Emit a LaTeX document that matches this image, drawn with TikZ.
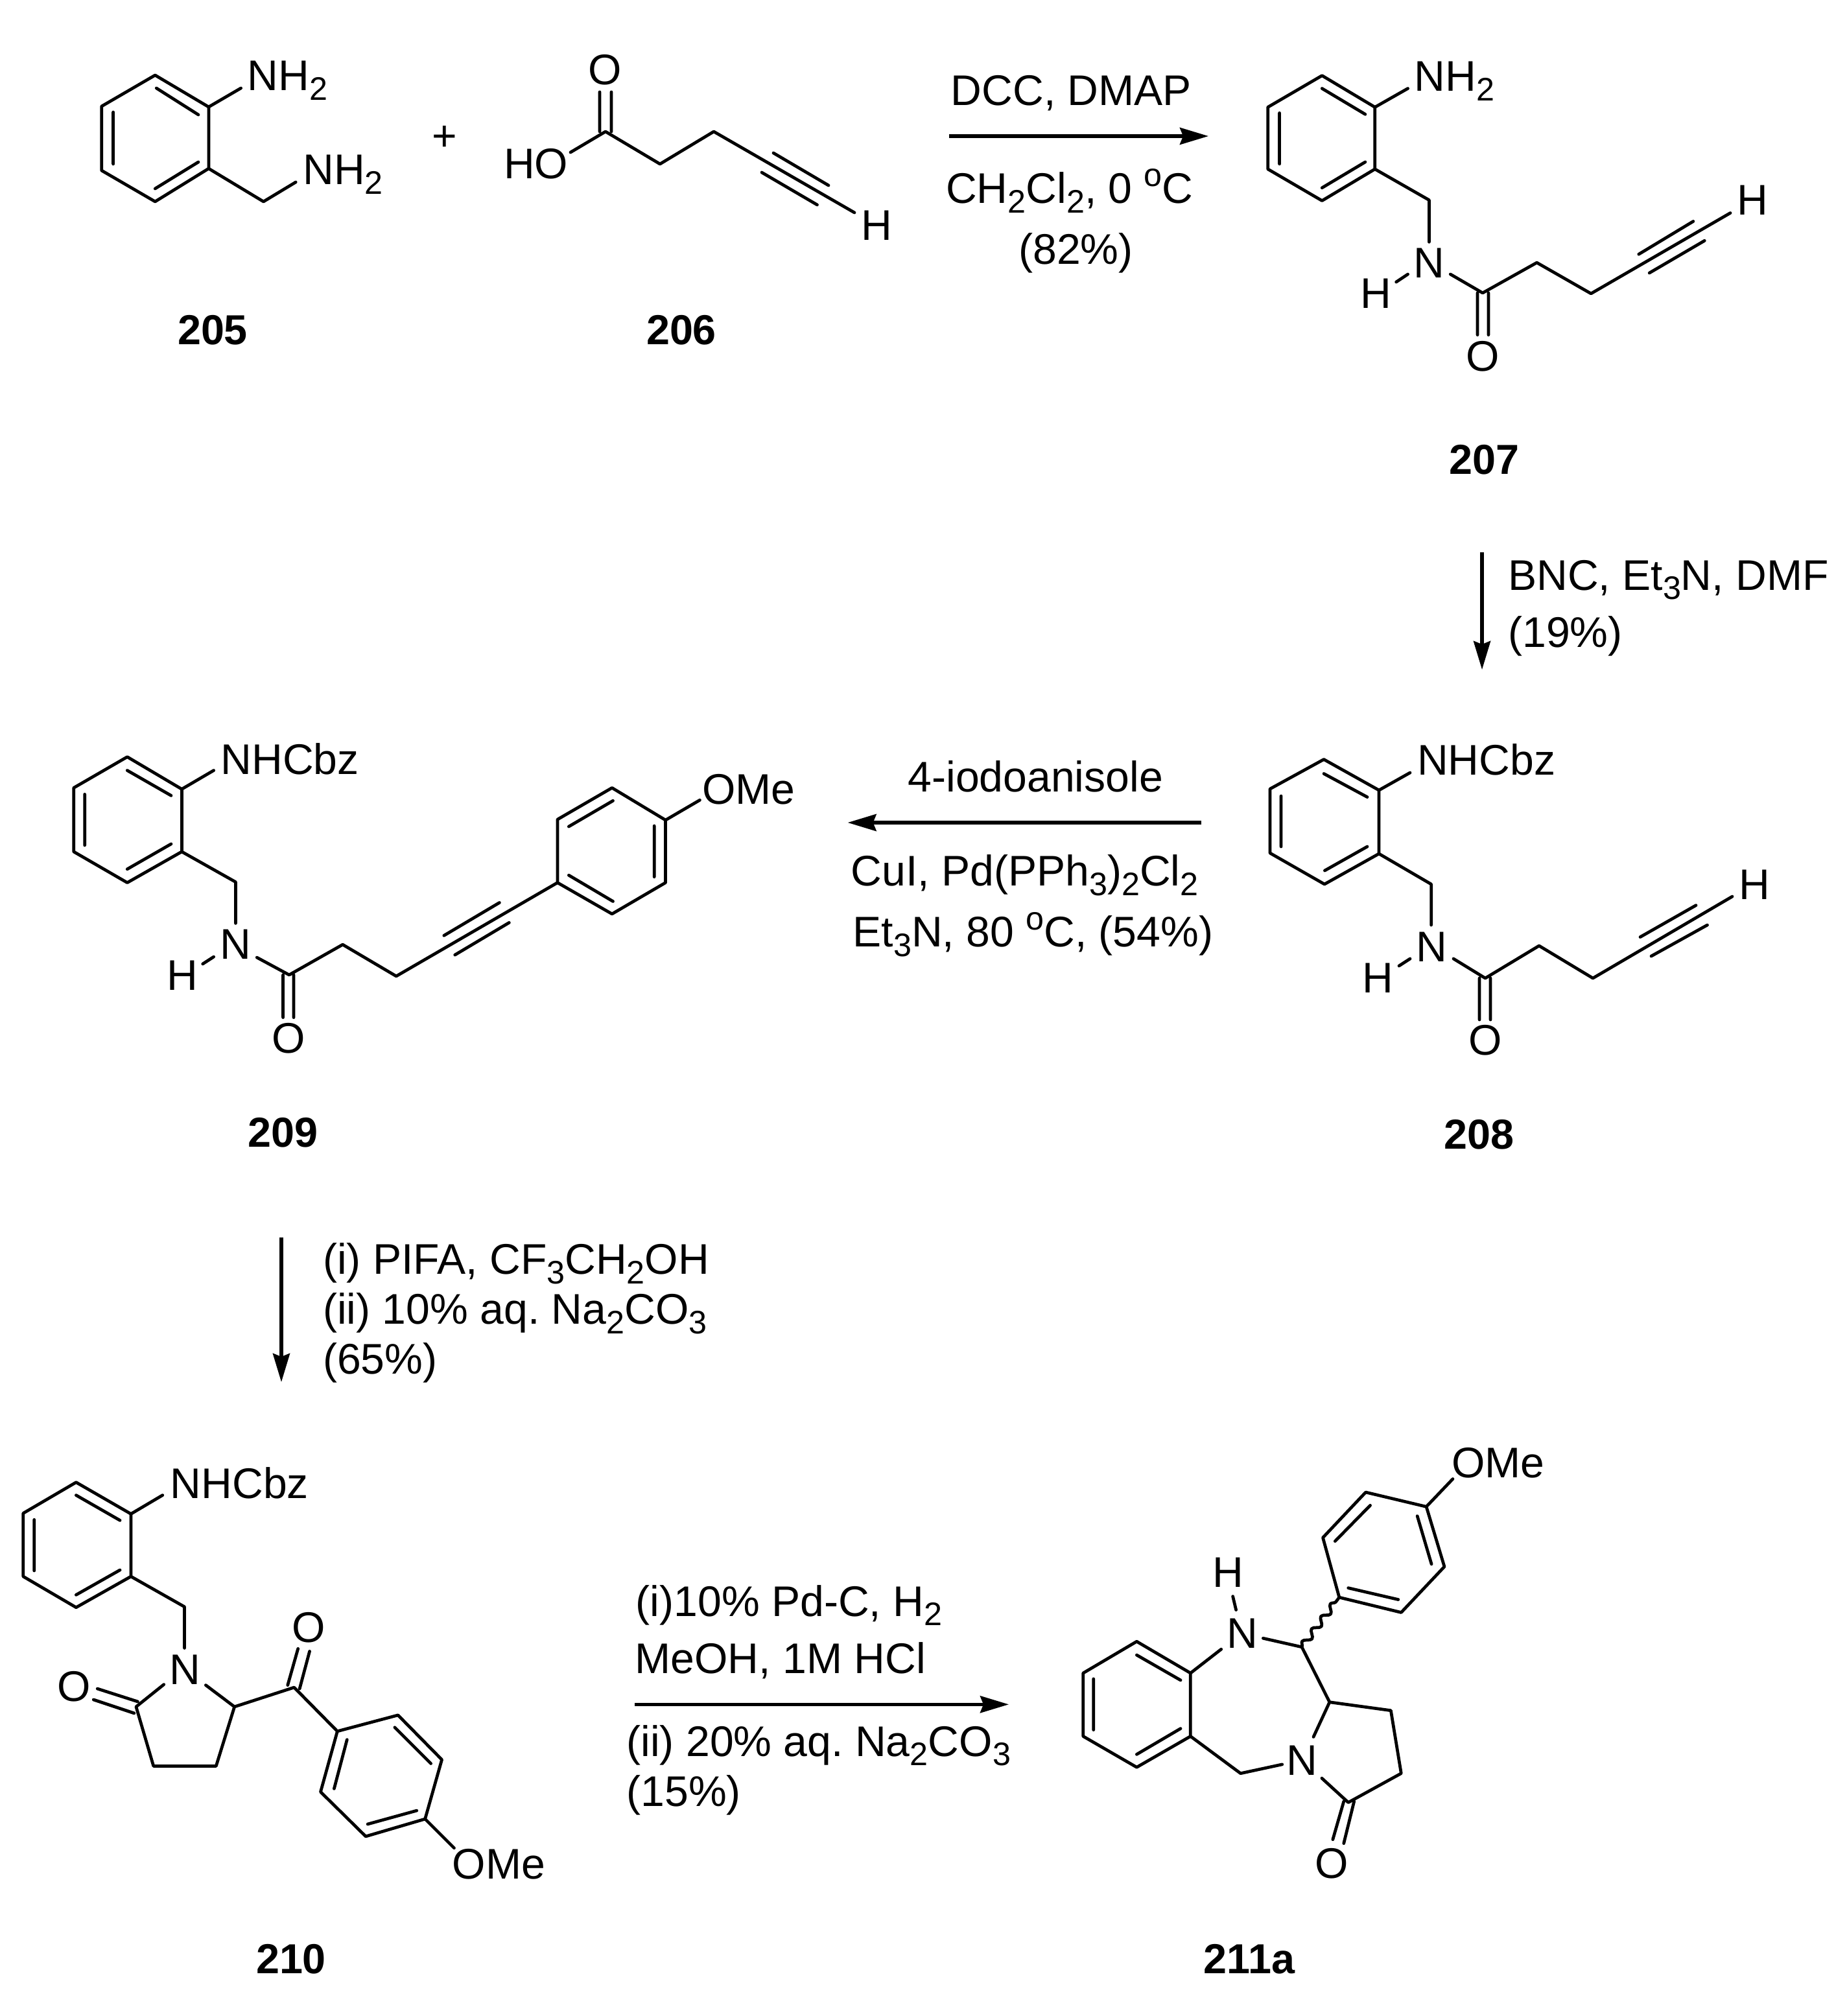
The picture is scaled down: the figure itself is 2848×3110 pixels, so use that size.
\documentclass[tikz,border=0pt]{standalone}
\usepackage{fontspec}
\setmainfont{Liberation Sans}
\usetikzlibrary{arrows.meta,decorations.pathmorphing}
\AtBeginDocument{\frenchspacing}
\newcommand{\sbs}[1]{\raisebox{-.22em}{\fontsize{14.3}{14}\selectfont #1}}
\newcommand{\sps}[1]{\raisebox{.4em}{\fontsize{14.3}{14}\selectfont #1}}
\tikzset{
  bond/.style={line width=1.35pt,line cap=round,line join=round,black},
  rxn/.style={line width=1.45pt,black,-{Stealth[length=.44cm,width=.26cm,inset=.05cm]}},
  txt/.style={inner sep=0pt,anchor=base west,xshift=-.045cm,font=\fontsize{18.8}{22}\selectfont},
  atom/.style={inner sep=0pt,anchor=center,font=\fontsize{18.8}{22}\selectfont},
  cmpd/.style={inner sep=0pt,anchor=center,font=\fontsize{18.4}{22}\selectfont\bfseries},
  wavybond/.style={bond,decorate,decoration={snake,segment length=.24cm,amplitude=.05cm}}
}
\begin{document}
\begin{tikzpicture}[x=0.01cm,y=-0.01cm]
\path[use as bounding box,fill=white] (0,0) rectangle (2848,3110);

% ---------- 205
\begin{scope}[shift={(100,40)},xscale=.995,shift={(-100,-40)}]
\path (240,116) coordinate (a1) (323,165) coordinate (a2) (323,260) coordinate (a3)
      (240,311) coordinate (a4) (157,263) coordinate (a5) (157,164) coordinate (a6)
      (373,136) coordinate (a7) (408,311) coordinate (a8) (458,281) coordinate (a9)
      (242,136) coordinate (ai1) (307,177) coordinate (ai2) (175,173) coordinate (ai3)
      (175,253) coordinate (ai4) (240,291) coordinate (ai5) (307,250) coordinate (ai6);
\draw[bond] (a1)--(a2)--(a3)--(a4)--(a5)--(a6)--cycle;
\draw[bond] (ai1)--(ai2) (ai3)--(ai4) (ai5)--(ai6) (a2)--(a7) (a3)--(a8)--(a9);
\node[txt] (t205a) at (387,140) {NH\sbs{2}};
\node[txt] (t205b) at (473,285) {NH\sbs{2}};
\end{scope}
\node[cmpd] (l205) at (328,509) {205};
\node[atom] (plus) at (686,213) {+};

% ---------- 206
\path (934,203) coordinate (b1) (1018,253) coordinate (b2) (1101,203) coordinate (b3)
      (1318,328) coordinate (b4) (880,235) coordinate (b5)
      (925,203) coordinate (b6) (925,142) coordinate (b7) (943,203) coordinate (b8) (943,142) coordinate (b9)
      (1193,236) coordinate (b10) (1278,286) coordinate (b11) (1175,266) coordinate (b12) (1260.5,316) coordinate (b13);
\draw[bond] (b5)--(b1)--(b2)--(b3)--(b4);
\draw[bond] (b6)--(b7) (b8)--(b9) (b10)--(b11) (b12)--(b13);
\node[atom] (o206) at (933.5,108) {O};
\node[txt] (ho206) at (781,276) {HO};
\node[atom] (h206) at (1352,348) {H};
\node[cmpd] (l206) at (1051,509) {206};

% ---------- arrow 205+206 -> 207
\coordinate (r1s) at (1464,210); \coordinate (r1e) at (1864,210);
\draw[rxn] (r1s)--(r1e);
\node[txt] (r1a) at (1470.7,163) {DCC, DMAP};
\node[txt] (r1b) at (1463,314) {CH\sbs{2}Cl\sbs{2}, 0 \sps{o}C};
\node[txt] (r1c) at (1575,408) {(82\%)};

% ---------- 207
\begin{scope}[shift={(1900,40)},scale=.995,shift={(-1900,-40)}]
\path (2040,117) coordinate (c1) (2122,166) coordinate (c2) (2122,262) coordinate (c3)
      (2040,311) coordinate (c4) (1956,262) coordinate (c5) (1956,166) coordinate (c6)
      (2173,137) coordinate (c7) (2206,310) coordinate (c8) (2206,375) coordinate (c9)
      (2173,425) coordinate (c10) (2155,437) coordinate (c11) (2239,425) coordinate (c12)
      (2289,454) coordinate (c13) (2373,407) coordinate (c14) (2457,455) coordinate (c15)
      (2673,330) coordinate (c16)
      (2281,454) coordinate (c17) (2281,519) coordinate (c18) (2298,454) coordinate (c19) (2298,519) coordinate (c20)
      (2531,394) coordinate (c21) (2615.5,343) coordinate (c22) (2547.5,423) coordinate (c23) (2633,373) coordinate (c24)
      (2040,137) coordinate (ci1) (2107,177) coordinate (ci2) (1974,175) coordinate (ci3)
      (1974,254) coordinate (ci4) (2040,291) coordinate (ci5) (2107,251) coordinate (ci6);
\draw[bond] (c1)--(c2)--(c3)--(c4)--(c5)--(c6)--cycle;
\draw[bond] (ci1)--(ci2) (ci3)--(ci4) (ci5)--(ci6) (c2)--(c7) (c3)--(c8)--(c9) (c10)--(c11);
\draw[bond] (c12)--(c13)--(c14)--(c15)--(c16) (c17)--(c18) (c19)--(c20) (c21)--(c22) (c23)--(c24);
\node[txt] (t207) at (2187,141) {NH\sbs{2}};
\node[atom] (n207) at (2206,408) {N};
\node[atom] (hn207) at (2123,455) {H};
\node[atom] (o207) at (2289.5,552) {O};
\node[atom] (h207) at (2707,310) {H};
\node[cmpd] (l207) at (2291,713) {207};
\end{scope}

% ---------- arrow 207 -> 208
\coordinate (r2s) at (2286,852); \coordinate (r2e) at (2286,1033);
\draw[rxn] (r2s)--(r2e);
\node[txt] (r2a) at (2330,910.4) {BNC, Et\sbs{3}N, DMF};
\node[txt] (r2b) at (2330,998) {(19\%)};

% ---------- 208
\path (2042,1171.5) coordinate (d1) (2127,1219) coordinate (d2) (2127,1317) coordinate (d3)
      (2043,1364) coordinate (d4) (1959,1316) coordinate (d5) (1959,1217) coordinate (d6)
      (2175,1192) coordinate (d7) (2207.6,1364) coordinate (d8) (2207.6,1427) coordinate (d9)
      (2175,1479) coordinate (d10) (2158,1490) coordinate (d11) (2242,1479) coordinate (d12)
      (2291,1509) coordinate (d13) (2374,1459) coordinate (d14) (2457,1509) coordinate (d15)
      (2672,1383) coordinate (d16)
      (2282,1509) coordinate (d17) (2282,1573) coordinate (d18) (2299,1509) coordinate (d19) (2299,1573) coordinate (d20)
      (2530,1445.5) coordinate (d21) (2616,1396.6) coordinate (d22) (2547,1475) coordinate (d23) (2633.5,1427) coordinate (d24)
      (2042,1193.5) coordinate (di1) (2109,1229.6) coordinate (di2) (1976,1228) coordinate (di3)
      (1976,1306) coordinate (di4) (2043.4,1343) coordinate (di5) (2109,1306) coordinate (di6);
\draw[bond] (d1)--(d2)--(d3)--(d4)--(d5)--(d6)--cycle;
\draw[bond] (di1)--(di2) (di3)--(di4) (di5)--(di6) (d2)--(d7) (d3)--(d8)--(d9) (d10)--(d11);
\draw[bond] (d12)--(d13)--(d14)--(d15)--(d16) (d17)--(d18) (d19)--(d20) (d21)--(d22) (d23)--(d24);
\node[txt] (t208) at (2190,1195) {NHCbz};
\node[atom] (n208) at (2208,1461) {N};
\node[atom] (hn208) at (2125,1509) {H};
\node[atom] (o208) at (2291,1605) {O};
\node[atom] (h208) at (2706,1364.5) {H};
\node[cmpd] (l208) at (2281,1750) {208};

% ---------- arrow 208 -> 209
\coordinate (r3s) at (1853,1269); \coordinate (r3e) at (1307.6,1269);
\draw[rxn] (r3s)--(r3e);
\node[txt] (r3a) at (1404.4,1221.7) {4-iodoanisole};
\node[txt] (r3b) at (1316.4,1366.7) {CuI, Pd(PPh\sbs{3})\sbs{2}Cl\sbs{2}};
\node[txt] (r3c) at (1319.4,1460.7) {Et\sbs{3}N, 80 \sps{o}C, (54\%)};

% ---------- 209
\begin{scope}[shift={(60,1100)},scale=.995,shift={(-60,-1100)}]
\path (197,1168) coordinate (e1) (281.5,1218) coordinate (e2) (281.5,1315) coordinate (e3)
      (197,1363) coordinate (e4) (114,1315) coordinate (e5) (114,1216) coordinate (e6)
      (331,1189) coordinate (e7) (365,1362) coordinate (e8) (365,1426) coordinate (e9)
      (331,1478) coordinate (e10) (314,1489) coordinate (e11) (398,1479) coordinate (e12)
      (448,1506) coordinate (e13) (531,1459) coordinate (e14) (614,1508) coordinate (e15)
      (864,1363) coordinate (e16)
      (438.5,1506) coordinate (e17) (438.5,1572) coordinate (e18) (455,1506) coordinate (e19) (455,1572) coordinate (e20)
      (688,1445) coordinate (e21) (774,1394) coordinate (e22) (705,1475) coordinate (e23) (789,1425) coordinate (e24)
      (948.5,1411.5) coordinate (e25) (1031.5,1363) coordinate (e26) (1031.5,1266) coordinate (e27)
      (948.5,1216) coordinate (e28) (864,1265) coordinate (e29) (1084.6,1235) coordinate (e30)
      (197,1189) coordinate (ei1) (265,1228) coordinate (ei2) (131,1226) coordinate (ei3)
      (131,1305) coordinate (ei4) (197,1342) coordinate (ei5) (265,1303) coordinate (ei6)
      (881.5,1351.5) coordinate (ei7) (950,1392) coordinate (ei8) (1014,1354) coordinate (ei9)
      (1014,1275) coordinate (ei10) (950,1236) coordinate (ei11) (881.5,1276) coordinate (ei12);
\draw[bond] (e1)--(e2)--(e3)--(e4)--(e5)--(e6)--cycle;
\draw[bond] (ei1)--(ei2) (ei3)--(ei4) (ei5)--(ei6) (e2)--(e7) (e3)--(e8)--(e9) (e10)--(e11);
\draw[bond] (e12)--(e13)--(e14)--(e15)--(e16) (e17)--(e18) (e19)--(e20) (e21)--(e22) (e23)--(e24);
\draw[bond] (e16)--(e25)--(e26)--(e27)--(e28)--(e29)--cycle;
\draw[bond] (ei7)--(ei8) (ei9)--(ei10) (ei11)--(ei12) (e27)--(e30);
\node[txt] (t209) at (346,1195) {NHCbz};
\node[atom] (n209) at (365,1459) {N};
\node[atom] (hn209) at (282,1507) {H};
\node[atom] (o209) at (447,1604) {O};
\node[txt] (ome209) at (1092,1241) {OMe};
\node[cmpd] (l209) at (438.5,1750) {209};
\end{scope}

% ---------- arrow 209 -> 210
\coordinate (r4s) at (434,1909); \coordinate (r4e) at (434,2132);
\draw[rxn] (r4s)--(r4e);
\node[txt] (r4a) at (502,1965.7) {(i) PIFA, CF\sbs{3}CH\sbs{2}OH};
\node[txt] (r4b) at (502,2042.7) {(ii) 10\% aq. Na\sbs{2}CO\sbs{3}};
\node[txt] (r4c) at (502,2119.3) {(65\%)};

% ---------- 210
\begin{scope}[shift={(0,2240)},scale=.995,shift={(0,-2240)}]
\path (118,2287) coordinate (f1) (203,2336) coordinate (f2) (203,2433) coordinate (f3)
      (118,2481) coordinate (f4) (36,2433) coordinate (f5) (36,2335) coordinate (f6)
      (252,2307) coordinate (f7) (286,2480) coordinate (f8) (286,2544) coordinate (f9)
      (254,2600.5) coordinate (f10) (211,2635) coordinate (f11) (238,2727) coordinate (f12)
      (335,2727) coordinate (f13) (363.5,2635) coordinate (f14) (319,2601.5) coordinate (f15)
      (456,2605) coordinate (f16) (523,2673) coordinate (f17)
      (151,2607) coordinate (f18) (213.5,2627) coordinate (f19) (145,2624) coordinate (f20) (208,2645) coordinate (f21)
      (446,2601.5) coordinate (f22) (462,2545) coordinate (f23) (464.5,2607) coordinate (f24) (480,2549) coordinate (f25)
      (617,2648) coordinate (f26) (685,2717) coordinate (f27) (659,2809) coordinate (f28)
      (567,2836) coordinate (f29) (497,2767) coordinate (f30) (704,2854) coordinate (f31)
      (118,2307) coordinate (fi1) (186,2346) coordinate (fi2) (53,2345) coordinate (fi3)
      (53,2424) coordinate (fi4) (118,2461.5) coordinate (fi5) (186,2423) coordinate (fi6)
      (538,2686) coordinate (fi7) (518,2762) coordinate (fi8) (612,2667) coordinate (fi9)
      (668,2723) coordinate (fi10) (646,2796) coordinate (fi11) (570,2817) coordinate (fi12);
\draw[bond] (f1)--(f2)--(f3)--(f4)--(f5)--(f6)--cycle;
\draw[bond] (fi1)--(fi2) (fi3)--(fi4) (fi5)--(fi6) (f2)--(f7) (f3)--(f8)--(f9);
\draw[bond] (f10)--(f11)--(f12)--(f13)--(f14)--(f15) (f14)--(f16)--(f17);
\draw[bond] (f18)--(f19) (f20)--(f21) (f22)--(f23) (f24)--(f25);
\draw[bond] (f17)--(f26)--(f27)--(f28)--(f29)--(f30)--cycle;
\draw[bond] (fi7)--(fi8) (fi9)--(fi10) (fi11)--(fi12) (f28)--(f31);
\node[txt] (t210) at (268,2312) {NHCbz};
\node[atom] (n210) at (287,2577) {N};
\node[atom] (oa210) at (115,2604) {O};
\node[atom] (ob210) at (479,2512) {O};
\node[txt] (ome210) at (705,2901.5) {OMe};
\end{scope}
\node[cmpd] (l210) at (449,3022) {210};

% ---------- arrow 210 -> 211a
\coordinate (r5s) at (979.4,2629.3); \coordinate (r5e) at (1556,2629.3);
\draw[rxn] (r5s)--(r5e);
\node[txt] (r5a) at (984.7,2493.3) {(i)10\% Pd-C, H\sbs{2}};
\node[txt] (r5b) at (983.5,2581) {MeOH, 1M HCl};
\node[txt] (r5c) at (970.4,2709.3) {(ii) 20\% aq. Na\sbs{2}CO\sbs{3}};
\node[txt] (r5d) at (970.4,2786) {(15\%)};

% ---------- 211a
\begin{scope}[shift={(1640,2200)},scale=.995,shift={(-1640,-2200)}]
\path (1754,2534) coordinate (g1) (1837.4,2583) coordinate (g2) (1837.4,2681) coordinate (g3)
      (1754,2729) coordinate (g4) (1671,2681) coordinate (g5) (1671,2583) coordinate (g6)
      (1885,2546) coordinate (g7) (1908,2485) coordinate (g8) (1903,2464) coordinate (g9)
      (1950,2529) coordinate (g10) (2010,2542.6) coordinate (g11) (2053,2628) coordinate (g12)
      (2148,2641) coordinate (g13) (2164,2738.5) coordinate (g14) (2082,2783.6) coordinate (g15)
      (2041,2746) coordinate (g16) (2028,2682) coordinate (g17) (1915,2738.5) coordinate (g18)
      (1979.5,2724.6) coordinate (g19)
      (2075,2782) coordinate (g20) (2058,2841) coordinate (g21) (2091,2782) coordinate (g22) (2075,2847) coordinate (g23)
      (2068,2465.6) coordinate (g24) (2164,2489) coordinate (g25) (2231,2418) coordinate (g26)
      (2203,2325) coordinate (g27) (2109,2302.6) coordinate (g28) (2042.6,2373) coordinate (g29)
      (2244,2282) coordinate (g30)
      (1754,2555) coordinate (gi1) (1822,2594) coordinate (gi2) (1687,2592) coordinate (gi3)
      (1687,2671) coordinate (gi4) (1754,2709) coordinate (gi5) (1822,2669) coordinate (gi6)
      (2082,2451) coordinate (gi7) (2159.5,2469) coordinate (gi8) (2211,2414) coordinate (gi9)
      (2189,2339.5) coordinate (gi10) (2116,2323) coordinate (gi11) (2061.5,2378.5) coordinate (gi12);
\draw[bond] (g1)--(g2)--(g3)--(g4)--(g5)--(g6)--cycle;
\draw[bond] (gi1)--(gi2) (gi3)--(gi4) (gi5)--(gi6) (g2)--(g7) (g8)--(g9);
\draw[bond] (g10)--(g11)--(g12)--(g13)--(g14)--(g15)--(g16) (g12)--(g17) (g3)--(g18)--(g19);
\draw[bond] (g20)--(g21) (g22)--(g23);
\draw[bond] (g24)--(g25)--(g26)--(g27)--(g28)--(g29)--cycle;
\draw[bond] (gi7)--(gi8) (gi9)--(gi10) (gi11)--(gi12) (g27)--(g30);
\draw[wavybond] (g11)--(g24);
\node[atom] (n211) at (1918,2521.5) {N};
\node[atom] (hn211) at (1896,2427) {H};
\node[atom] (nb211) at (2010,2718) {N};
\node[atom] (o211) at (2056,2878) {O};
\node[txt] (ome211) at (2246,2279.5) {OMe};
\end{scope}
\node[cmpd] (l211) at (1927,3022) {211a};
\end{tikzpicture}
\end{document}
